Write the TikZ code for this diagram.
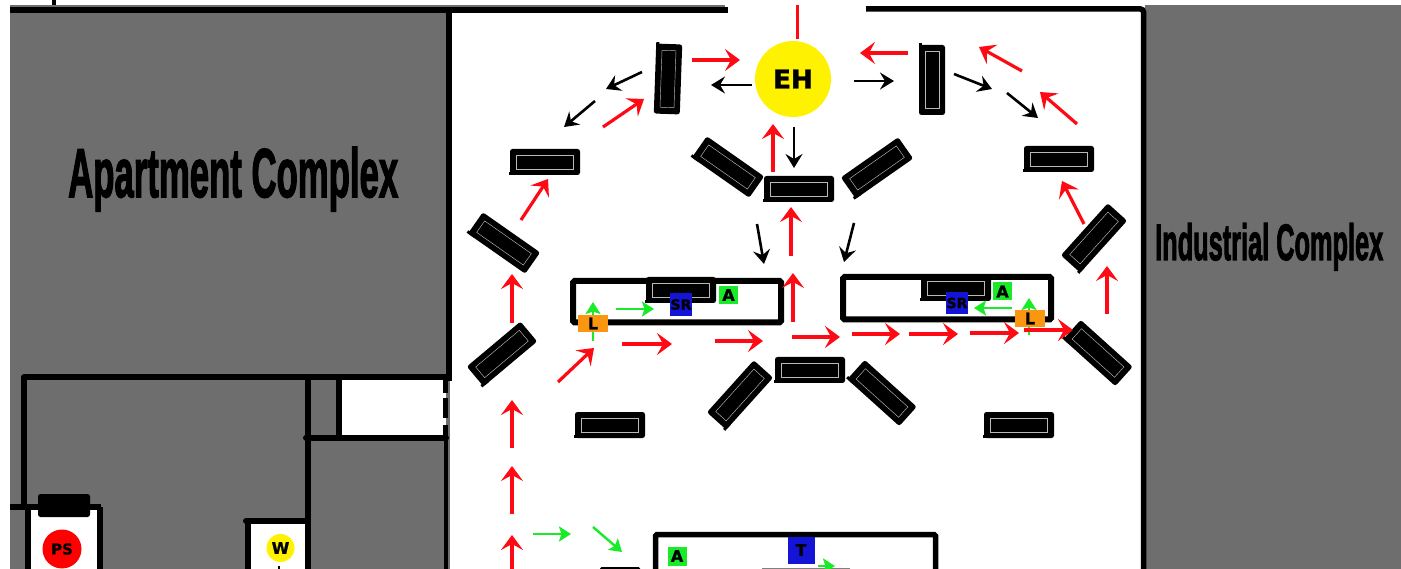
\documentclass[tikz,border=0pt]{standalone}
\usepackage{fontspec}
\usepackage{graphicx}
\setmainfont{Liberation Sans}
\setsansfont{DejaVu Sans}[FakeBold=1.2]
\newfontfamily\heavy{Liberation Sans}[FakeBold=2.5]
\usetikzlibrary{arrows.meta}
\definecolor{floorgray}{RGB}{110,110,110}
\definecolor{ared}{RGB}{255,10,20}
\definecolor{agreen}{RGB}{25,235,40}
\definecolor{tagblue}{RGB}{20,20,215}
\definecolor{tagorange}{RGB}{250,150,15}
\newcommand{\fs}[1]{\sffamily\bfseries\fontsize{#1}{#1}\selectfont}
\tikzset{
  x=1pt,y=-1pt,
  wall/.style={draw=black,line width=#1,line cap=round},
  wall/.default=6,
  redarrow/.style={draw=ared,line width=3.2,-{Stealth[length=15pt,width=22pt,inset=6pt]}},
  blackarrow/.style={draw=black,line width=2.6,-{Stealth[length=14pt,width=17pt,inset=5pt]}},
  greenarrow/.style={draw=agreen,line width=2.4,-{Stealth[length=12pt,width=15pt,inset=2.5pt]}},
  tag/.style={inner sep=0pt,minimum width=#1,text=black},
  machine/.pic={
    \fill[black,rounded corners=2.5] (-35,-13) rectangle (35,13);
    \fill[black] (-36.5,10) rectangle (-28,13);
    \draw[gray!55,line width=0.45] (-28.5,-7) rectangle (28.5,7);
  }
}
\begin{document}
\begin{tikzpicture}
\useasboundingbox (0,0) rectangle (1401,569);
\clip (0,0) rectangle (1401,569);
% floors
\fill[white] (0,0) rectangle (1401,569);
\fill[floorgray] (10,5) rectangle (450,569);
\fill[floorgray] (1145,5) rectangle (1401,569);
\fill[floorgray] (450,5) rectangle (725,8);
% white rooms on the left
\fill[white] (341,380) rectangle (446,435);
\fill[white] (28,508) rectangle (99,569);
\fill[white] (248,522) rectangle (308,569);
% walls, top
\draw[black,line width=4] (54,0) -- (54,5);
\draw[black,line width=6.5] (10,10) -- (728,10);
\draw[black,line width=5.5,rounded corners=3] (866,9) -- (1143.5,9) -- (1143.5,569);
\draw[black,line width=5.5] (449,7) -- (449,381);
% walls, lower left
\draw[wall] (24,377.5) -- (447,377.5);
\draw[wall] (24,377.5) -- (24,505);
\draw[black,line width=6] (10,507) -- (101,507);
\draw[black,line width=6] (27.5,507) -- (27.5,569);
\draw[black,line width=6] (99.5,507) -- (99.5,569);
\draw[wall] (246,521) -- (308,521);
\draw[black,line width=5.5] (248,521) -- (248,569);
\draw[black,line width=6] (308,377) -- (308,569);
\draw[black,line width=6] (339,377) -- (339,437);
\draw[wall] (306,437.5) -- (446,437.5);
\draw[black,line width=4.5] (446,437) -- (446,569);
\draw[black,line width=5.5] (445.5,380) -- (445.5,393);
\draw[black,line width=5.5] (445.5,398) -- (445.5,418);
\draw[black,line width=5.5] (445.5,425) -- (445.5,437);
\fill[black,rounded corners=2.5] (38,494) rectangle (90,517);
% inner rooms
\draw[black,line width=6,rounded corners=1.5] (573,281) rectangle (781,322.5);
\draw[black,line width=6,rounded corners=1.5] (843,277) rectangle (1051,319.5);
\draw[black,line width=5.5,rounded corners=1.5] (655.5,575) -- (655.5,534.5) -- (935.5,534.5) -- (935.5,575);
% machines
\foreach \mx/\my/\ma in {
  545/162/0, 799/189/0, 1059/159/0, 681/290/0, 956/288/0, 810/370/0, 610/425/0, 1019/425/0,
  504/243/-35, 728/167/-35, 877/168/35, 1094/238/48, 1098/353/-42, 502/354/40, 740/395/48, 882/393/-42,
  668/79/-92, 932/80/-90}
  {\pic[rotate=\ma] at (\mx,\my) {machine};}
\fill[black,rounded corners=1.5] (600,567) rectangle (640,575);
\fill[gray] (762,567.5) rectangle (850,569);
% green arrows under tags
\draw[greenarrow] (593,341) -- (593,302);
\draw[greenarrow] (1029,335) -- (1029,298);
% tags
\node[tag=30pt,minimum height=17pt,fill=tagorange] (ll) at (593,323.5) {\fs{16}L};
\node[tag=30pt,minimum height=17pt,fill=tagorange] (lr) at (1030,318.5) {\fs{16}L};
\node[tag=19pt,minimum height=18pt,fill=agreen] (al) at (728.5,295) {\fs{16}A};
\node[tag=19pt,minimum height=18pt,fill=agreen] (ar) at (1002.5,291.5) {\fs{16}A};
\node[tag=19pt,minimum height=19pt,fill=agreen] (ab) at (677,556) {\fs{16}A};
\node[tag=22pt,minimum height=23pt,fill=tagblue] (srl) at (681,304.5) {\fs{14}SR};
\node[tag=22pt,minimum height=22pt,fill=tagblue] (srr) at (957,303) {\fs{14}SR};
\node[tag=27pt,minimum height=27pt,fill=tagblue] (tb) at (801,550) {\fs{16}T};
\node[circle,fill=yellow,minimum size=76pt,inner sep=0pt] (eh) at (793,79) {\fs{26}EH};
\node[circle,fill=red,minimum size=39pt,inner sep=0pt] (ps) at (62,549) {\fs{15}PS};
\node[circle,fill=yellow,minimum size=28pt,inner sep=0pt] (wn) at (280.5,548) {\fs{16}W};
% red arrows
\draw[ared,line width=3.2] (797.5,5) -- (797.5,39);
\foreach \ax/\ay/\bx/\by in {
  692/60/740/60, 603/127/644/99, 521/220/548/179, 773/172/773/124, 791/256/791/207,
  908/53/860/53, 1022/71/979/47, 1077/124/1040/92, 1084/224/1062/181, 1107/314/1107/266,
  793/322/793/273, 792/337/840/337, 852/334/900/334, 909/334/958/334, 970/333/1019/333,
  1024/330/1073/330, 512/323/512/274, 512/448/512/400, 512/514/512/466, 512/575/512/535,
  558/382/594/348, 622/344/672/344, 715/341/763/341}
  {\draw[redarrow] (\ax,\ay) -- (\bx,\by);}
% black arrows
\foreach \ax/\ay/\bx/\by in {
  752/85/711/85, 642/72/606/89, 595/101/564/127, 794/127/794/168, 757/224/764/264,
  854/223/844/262, 854/81/894/81, 954/74/992/89, 1007/93/1038/118}
  {\draw[blackarrow] (\ax,\ay) -- (\bx,\by);}
% green arrows
\foreach \ax/\ay/\bx/\by in {
  616/309/654/309, 533/534/571/534, 593/527/622/552, 1012/308/974/308, 818/566/835/566}
  {\draw[greenarrow] (\ax,\ay) -- (\bx,\by);}
\draw[black,line width=2] (279,566) -- (279,570);
% area names
\node[anchor=base west,inner sep=0pt,text=black] (apt) at (68,197)
  {\resizebox{330pt}{50pt}{\heavy\bfseries Apartment Complex}};
\node[anchor=base west,inner sep=0pt,text=black] (ind) at (1155,260)
  {\resizebox{228pt}{37pt}{\heavy\bfseries Industrial Complex}};
\end{tikzpicture}
\end{document}
